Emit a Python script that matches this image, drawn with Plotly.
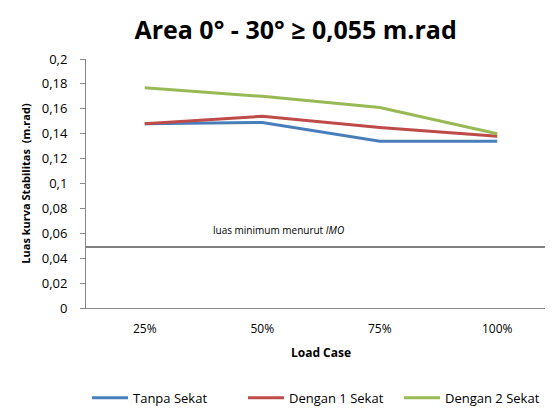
import plotly.graph_objects as go

categories = ["25%", "50%", "75%", "100%"]
tanpa_sekat = [0.148, 0.149, 0.134, 0.134]
dengan_1_sekat = [0.148, 0.154, 0.145, 0.138]
dengan_2_sekat = [0.177, 0.170, 0.161, 0.140]
imo_min = 0.049
y_ticks = [0, 0.02, 0.04, 0.06, 0.08, 0.1, 0.12, 0.14, 0.16, 0.18, 0.2]

FONT = "Open Sans"
xpos = list(range(len(categories)))

fig = go.Figure()
for name, vals, col in [("Tanpa Sekat", tanpa_sekat, "#4a7ebb"),
                        ("Dengan 1 Sekat", dengan_1_sekat, "#be4b48"),
                        ("Dengan 2 Sekat", dengan_2_sekat, "#98b954")]:
    fig.add_trace(go.Scatter(x=xpos, y=vals, mode="lines", name=name,
                             line=dict(color=col, width=3)))

fig.add_shape(type="line", xref="paper", x0=0, x1=1.02, yref="y", y0=imo_min, y1=imo_min,
              line=dict(color="black", width=1.2))
fig.add_annotation(xref="paper", x=0.41, yref="y", y=imo_min + 0.014,
                   text="luas minimum menurut <i>IMO</i>", showarrow=False,
                   font=dict(family=FONT, size=10, color="black"), xanchor="center")

fig.update_layout(
    width=553, height=410,
    margin=dict(l=78, r=5, t=51, b=102),
    paper_bgcolor="white", plot_bgcolor="white",
    separators=",.",
    title=dict(text="<b>Area 0° - 30° ≥ 0,055 m.rad</b>", x=0.52, xanchor="center",
               y=0.945, yanchor="middle", font=dict(family=FONT, size=25, color="black")),
    font=dict(family=FONT, size=12, color="black"),
    showlegend=True,
    legend=dict(orientation="h", x=0.5, xanchor="center", y=-0.3, yanchor="top",
                font=dict(family=FONT, size=13, color="black"), itemwidth=36,
                entrywidth=105, entrywidthmode="pixels", tracegroupgap=0),
    xaxis=dict(range=[-0.5, 3.5], tickvals=xpos, ticktext=categories,
               showline=True, linecolor="#888888", linewidth=1, showgrid=False,
               ticks="outside", ticklen=10, tickcolor="rgba(0,0,0,0)", tickfont=dict(size=12),
               title=dict(text="<b>Load Case</b>", font=dict(size=12), standoff=12),
               zeroline=False),
    yaxis=dict(range=[0, 0.2], tickvals=y_ticks, showline=True, linecolor="#888888",
               linewidth=1, showgrid=False, ticks="outside", ticklen=5, tickcolor="#888888",
               tickfont=dict(size=13), ticklabelstandoff=10,
               title=dict(text="<b>Luas kurva Stabilitas  (m.rad)</b>", font=dict(size=11), standoff=8),
               zeroline=False),
)
fig.write_html("out.html")
